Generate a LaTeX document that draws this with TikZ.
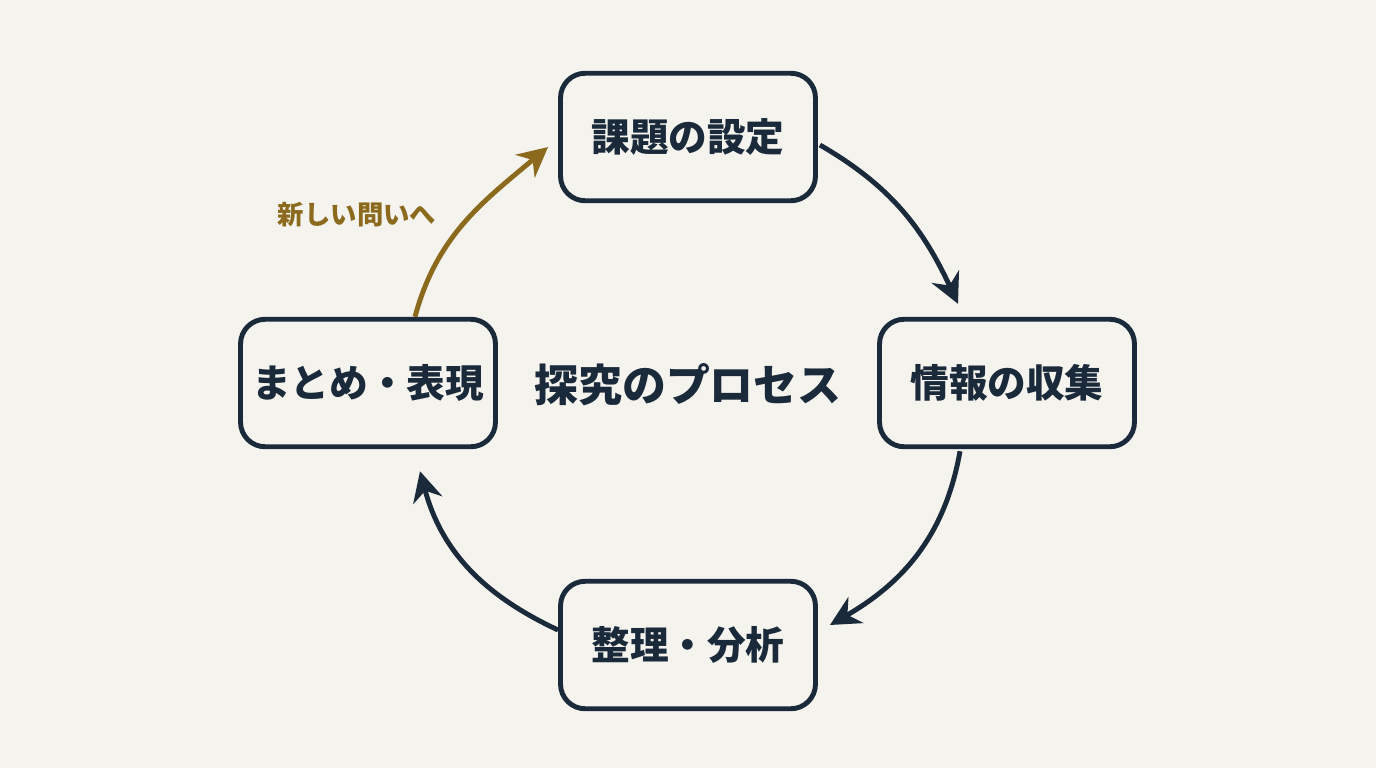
\documentclass[tikz,border=0pt]{standalone}
\usepackage{fontspec}
\setmainfont{Noto Sans CJK JP}
\usetikzlibrary{arrows.meta,calc}
\definecolor{navy}{HTML}{1A2A3A}
\definecolor{gold}{HTML}{8B6A1E}
\definecolor{paper}{HTML}{F4F3EE}
\begin{document}
\begin{tikzpicture}[x=0.02cm,y=-0.02cm,
  stage/.style={draw=navy,line width=2.8pt,rounded corners=14pt,minimum width=5.1cm,minimum height=2.55cm,font=\bfseries\fontsize{22}{24}\selectfont,text=navy},
  flow/.style={draw=navy,line width=2.8pt,-{Stealth[length=17pt,width=17pt]}},
  back/.style={flow,draw=gold}]
\fill[paper] (0,0) rectangle (1376,768);
\node[stage] (task) at (688,137) {課題の設定};
\node[stage] (info) at (1007,383) {情報の収集};
\node[stage] (anal) at (688,645) {整理・分析};
\node[stage] (expr) at (368,383) {まとめ・表現};
\node[font=\bfseries\fontsize{25}{27}\selectfont,text=navy] (title) at (688,385) {探究のプロセス};
\node[font=\bfseries\fontsize{15}{17}\selectfont,text=gold] (new) at (357,215) {新しい問いへ};
\draw[flow] ($(task.east)+(2,8)$) to[out=-30,in=115] ($(info.north)+(-49,-13)$);
\draw[flow] ($(info.south)+(-47,2)$) to[out=-100,in=30] ($(anal.east)+(12,-20)$);
\draw[flow] ($(anal.west)+(0,-15)$) to[out=155,in=-75] ($(expr.south)+(52,22)$);
\draw[back] ($(expr.north)+(47,0)$) to[out=75,in=-140] ($(task.west)+(-10,10)$);
\end{tikzpicture}
\end{document}
